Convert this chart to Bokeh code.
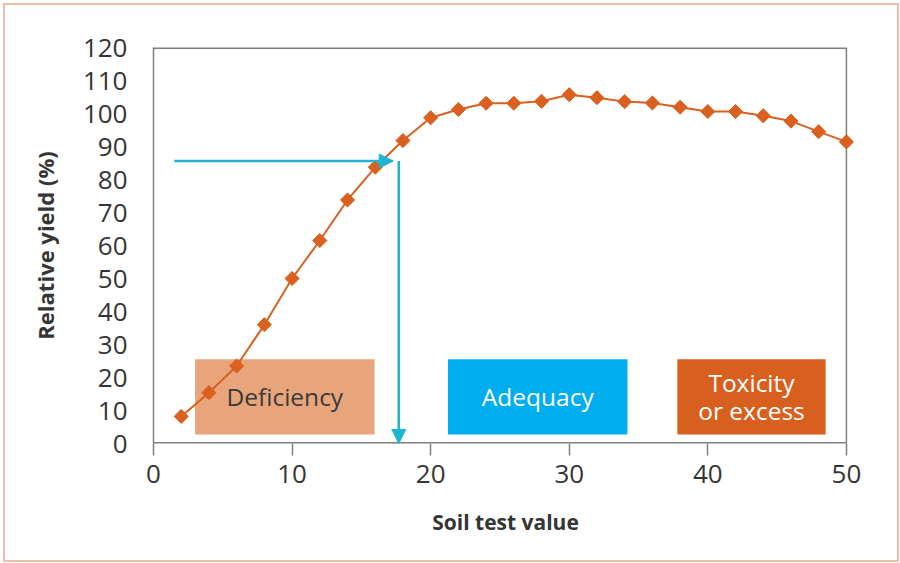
import math
from bokeh.plotting import figure
from bokeh.models import Range1d, FixedTicker, Arrow, NormalHead, ColumnDataSource
from bokeh.core.properties import value
from bokeh.embed import file_html
from bokeh.resources import INLINE

# ---- data ----
soil_test = [2, 4, 6, 8, 10, 12, 14, 16, 18, 20, 22, 24, 26, 28, 30, 32, 34, 36, 38, 40, 42, 44, 46, 48, 50]
rel_yield = [8.2, 15.4, 23.5, 36, 50, 61.5, 73.8, 83.7, 91.8, 98.7, 101.2, 103.1, 103.1, 103.7, 105.7,
             104.8, 103.6, 103.2, 101.9, 100.6, 100.6, 99.3, 97.7, 94.5, 91.4]

zone_labels = ["Deficiency", "Adequacy", "Toxicity\nor excess"]
zone_left = [3.0, 21.25, 37.8]
zone_right = [15.95, 34.2, 48.5]
zone_bottom = [2.7, 2.7, 2.7]
zone_top = [25.5, 25.5, 25.5]
zone_colors = ["#E8A47A", "#00ADEE", "#D8601E"]
zone_text_colors = ["#3a3a3a", "#ffffff", "#ffffff"]

target_yield = 85.6
arrow_x_start = 1.5
arrow_h_end = 17.3
critical_value = 17.7

x_min, x_max = 0, 50
y_min, y_max = 0, 120
x_ticks = [0, 10, 20, 30, 40, 50]
y_ticks = [0, 10, 20, 30, 40, 50, 60, 70, 80, 90, 100, 110, 120]

ORANGE = "#D9601E"
CYAN = "#1EB4D2"
FONT = "Open Sans"
TXT = "#353535"
AXIS = "#7f7f7f"

p = figure(width=896, height=559, output_backend="svg", toolbar_location=None,
           x_range=Range1d(x_min, x_max + 0.8), y_range=Range1d(y_min, y_max),
           min_border_left=148, min_border_right=44, min_border_top=42, min_border_bottom=121,
           styles={"border": "2px solid #EDBFA8", "margin": "3px"})
p.grid.visible = False
p.outline_line_color = None

for ax in (p.xaxis[0], p.yaxis[0]):
    ax.axis_line_color = AXIS
    ax.axis_line_width = 1.5
    ax.major_tick_line_color = AXIS
    ax.major_tick_line_width = 1.5
    ax.minor_tick_line_color = None
    ax.major_tick_in = 0
    ax.major_label_text_font = FONT
    ax.major_label_text_font_size = "26px"
    ax.major_label_text_color = TXT
    ax.axis_label_text_font = FONT
    ax.axis_label_text_font_style = "bold"
    ax.axis_label_text_color = TXT

p.xaxis.ticker = FixedTicker(ticks=x_ticks)
p.yaxis.ticker = FixedTicker(ticks=y_ticks)
p.xaxis.axis_label = "Soil test value"
p.yaxis.axis_label = "Relative yield (%)"
p.xaxis.axis_label_text_font_size = "21px"
p.yaxis.axis_label_text_font_size = "22px"
p.xaxis.axis_line_color = None
p.xaxis.major_tick_out = 12
p.xaxis.major_label_standoff = 9
p.xaxis.axis_label_standoff = 22
p.yaxis.major_tick_out = 0
p.yaxis.major_label_standoff = 26
p.yaxis.axis_label_standoff = 20

# frame lines (bottom, top, right) ending at x = 50
p.segment(x0=[x_min, x_min, x_max], y0=[y_min, y_max, y_min],
          x1=[x_max, x_max, x_max], y1=[y_min, y_max, y_max],
          line_color=AXIS, line_width=[3, 3, 1.5])

zsrc = ColumnDataSource(dict(left=zone_left, right=zone_right, bottom=zone_bottom, top=zone_top,
                             color=zone_colors, label=zone_labels, tcolor=zone_text_colors,
                             xc=[(a + b) / 2 for a, b in zip(zone_left, zone_right)],
                             yc=[(a + b) / 2 for a, b in zip(zone_bottom, zone_top)]))
p.quad(left="left", right="right", bottom="bottom", top="top", fill_color="color",
       line_color=None, source=zsrc)
p.text(x="xc", y="yc", text="label", text_color="tcolor", text_font=value(FONT),
       text_font_size="24.5px", text_align="center", text_baseline="middle",
       text_line_height=0.85, source=zsrc)

p.line(soil_test, rel_yield, line_color=ORANGE, line_width=2)
p.scatter(soil_test, rel_yield, marker="square", size=10, angle=math.pi / 4,
          fill_color=ORANGE, line_color=ORANGE)

p.add_layout(Arrow(end=NormalHead(size=14, fill_color=CYAN, line_color=CYAN),
                   x_start=arrow_x_start, y_start=target_yield, x_end=arrow_h_end, y_end=target_yield,
                   line_color=CYAN, line_width=2.5))
p.add_layout(Arrow(end=NormalHead(size=14, fill_color=CYAN, line_color=CYAN),
                   x_start=critical_value, y_start=target_yield, x_end=critical_value, y_end=y_min,
                   line_color=CYAN, line_width=2.5))

open("out.html", "w").write(file_html(p, INLINE))
